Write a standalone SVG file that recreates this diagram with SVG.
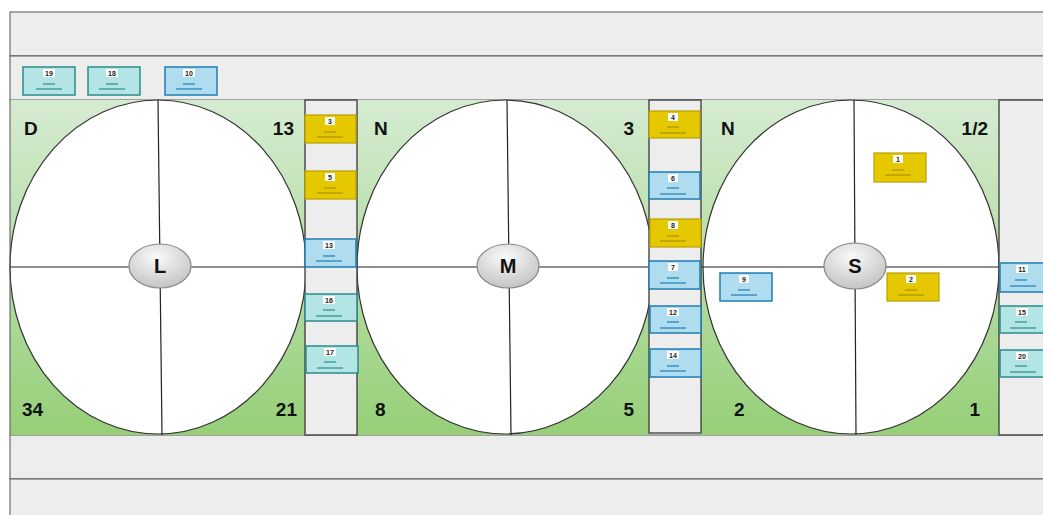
<svg xmlns="http://www.w3.org/2000/svg" width="1043" height="515" viewBox="0 0 1043 515">
<defs>
<linearGradient id="gg" x1="0" y1="0" x2="0" y2="1">
<stop offset="0" stop-color="#d5ebd2"/>
<stop offset="1" stop-color="#96cf78"/>
</linearGradient>
<radialGradient id="cg" cx="0.45" cy="0.3" r="0.8">
<stop offset="0" stop-color="#fafafa"/>
<stop offset="1" stop-color="#bcbcbc"/>
</radialGradient>
<style>
.lane{fill:#ededed;stroke:#555;stroke-width:1}
.col{fill:#ededed;stroke:#444;stroke-width:1.4}
.green{fill:url(#gg);stroke:none}
.big{fill:#fff;stroke:#333;stroke-width:1.2}
.axis{stroke:#222;stroke-width:1.2}
.ctr{fill:url(#cg);stroke:#888;stroke-width:1.2}
.ctrt{font-family:"Liberation Sans",Arial,sans-serif;font-size:20px;font-weight:bold;fill:#111;text-anchor:middle}
.corner{font-family:"Liberation Sans",Arial,sans-serif;font-size:19px;font-weight:bold;fill:#111}
.teal{fill:#b4e5e5;stroke:#2b8c8c;stroke-width:1.5}
.blue{fill:#b0dcf0;stroke:#1e7db3;stroke-width:1.5}
.yel{fill:#e5c800;stroke:#b9a100;stroke-width:1.2}
.num{font-family:"Liberation Sans",Arial,sans-serif;font-size:7px;font-weight:bold;fill:#222;text-anchor:middle}
.tb{fill:#fff}
.ln1{stroke-width:1.2}
.teal-l{stroke:#2b8c8c}
.blue-l{stroke:#1e7db3}
.yel-l{stroke:#a89200}
</style>
</defs>

<g id="lanes">
<rect class="lane" x="10" y="12" width="1040" height="44"/>
<rect class="lane" x="10" y="56" width="1040" height="44"/>
<rect class="lane" x="10" y="435" width="1040" height="44"/>
<rect class="lane" x="10" y="479" width="1040" height="44"/>
</g>

<g id="panel-L">
<rect class="green" x="10" y="100" width="295" height="335"/>
<ellipse class="big" cx="158" cy="267" rx="148" ry="167"/>
<line class="axis" x1="158" y1="100" x2="162" y2="435"/>
<line class="axis" x1="10" y1="267" x2="305" y2="267"/>
<text class="corner" x="24" y="135">D</text>
<text class="corner" x="294" y="135" text-anchor="end">13</text>
<text class="corner" x="22" y="416">34</text>
<text class="corner" x="297" y="416" text-anchor="end">21</text>
</g>
<g id="node-L">
<ellipse class="ctr" cx="160" cy="266" rx="31" ry="22"/>
<text class="ctrt" x="160" y="273">L</text>
</g>

<g id="panel-M">
<rect class="green" x="357" y="100" width="292" height="335"/>
<ellipse class="big" cx="505" cy="267" rx="148" ry="167"/>
<line class="axis" x1="507" y1="100" x2="511" y2="435"/>
<line class="axis" x1="357" y1="267" x2="649" y2="267"/>
<text class="corner" x="374" y="135">N</text>
<text class="corner" x="634" y="135" text-anchor="end">3</text>
<text class="corner" x="375" y="416">8</text>
<text class="corner" x="634" y="416" text-anchor="end">5</text>
</g>
<g id="node-M">
<ellipse class="ctr" cx="508" cy="266" rx="31" ry="22"/>
<text class="ctrt" x="508" y="273">M</text>
</g>

<g id="panel-S">
<rect class="green" x="701" y="100" width="298" height="335"/>
<ellipse class="big" cx="851" cy="267" rx="148" ry="167"/>
<line class="axis" x1="854" y1="100" x2="856" y2="435"/>
<line class="axis" x1="701" y1="267" x2="999" y2="267"/>
<text class="corner" x="721" y="135">N</text>
<text class="corner" x="988" y="135" text-anchor="end">1/2</text>
<text class="corner" x="734" y="416">2</text>
<text class="corner" x="980" y="416" text-anchor="end">1</text>
</g>
<g id="node-S">
<ellipse class="ctr" cx="855" cy="266" rx="31" ry="23"/>
<text class="ctrt" x="855" y="273">S</text>
</g>

<g id="columns">
<rect class="col" x="305" y="100" width="52" height="335"/>
<rect class="col" x="649" y="100" width="52" height="333"/>
<rect class="col" x="999" y="100" width="50" height="335"/>
<line x1="10" y1="100" x2="10" y2="435" stroke="#555"/>
</g>

<g id="cards">
<g id="c19"><rect class="teal" x="23" y="67" width="52" height="28"/><rect class="tb" x="43" y="69" width="12" height="8"/><text class="num" x="49" y="76">19</text><line class="ln1 teal-l" x1="43" y1="84" x2="55" y2="84"/><line class="ln1 teal-l" x1="36" y1="89" x2="62" y2="89"/></g>
<g id="c18"><rect class="teal" x="88" y="67" width="52" height="28"/><rect class="tb" x="106" y="69" width="12" height="8"/><text class="num" x="112" y="76">18</text><line class="ln1 teal-l" x1="106" y1="84" x2="118" y2="84"/><line class="ln1 teal-l" x1="99" y1="89" x2="125" y2="89"/></g>
<g id="c10"><rect class="blue" x="165" y="67" width="52" height="28"/><rect class="tb" x="183" y="69" width="12" height="8"/><text class="num" x="189" y="76">10</text><line class="ln1 blue-l" x1="183" y1="84" x2="195" y2="84"/><line class="ln1 blue-l" x1="176" y1="89" x2="202" y2="89"/></g>

<g id="c3"><rect class="yel" x="305" y="115" width="51" height="28"/><rect class="tb" x="325" y="117" width="10" height="8"/><text class="num" x="330" y="124">3</text><line class="ln1 yel-l" x1="324" y1="132" x2="336" y2="132"/><line class="ln1 yel-l" x1="317" y1="137" x2="343" y2="137"/></g>
<g id="c5"><rect class="yel" x="305" y="171" width="51" height="28"/><rect class="tb" x="325" y="173" width="10" height="8"/><text class="num" x="330" y="180">5</text><line class="ln1 yel-l" x1="324" y1="188" x2="336" y2="188"/><line class="ln1 yel-l" x1="317" y1="193" x2="343" y2="193"/></g>
<g id="c13"><rect class="blue" x="305" y="239" width="51" height="28"/><rect class="tb" x="323" y="241" width="12" height="8"/><text class="num" x="329" y="248">13</text><line class="ln1 blue-l" x1="323" y1="256" x2="335" y2="256"/><line class="ln1 blue-l" x1="316" y1="261" x2="342" y2="261"/></g>
<g id="c16"><rect class="teal" x="305" y="294" width="52" height="27"/><rect class="tb" x="323" y="296" width="12" height="8"/><text class="num" x="329" y="303">16</text><line class="ln1 teal-l" x1="323" y1="310" x2="335" y2="310"/><line class="ln1 teal-l" x1="316" y1="316" x2="342" y2="316"/></g>
<g id="c17"><rect class="teal" x="306" y="346" width="52" height="27"/><rect class="tb" x="324" y="348" width="12" height="8"/><text class="num" x="330" y="355">17</text><line class="ln1 teal-l" x1="324" y1="362" x2="336" y2="362"/><line class="ln1 teal-l" x1="317" y1="368" x2="343" y2="368"/></g>

<g id="c4"><rect class="yel" x="649" y="111" width="51" height="27"/><rect class="tb" x="668" y="113" width="10" height="8"/><text class="num" x="673" y="120">4</text><line class="ln1 yel-l" x1="667" y1="127" x2="679" y2="127"/><line class="ln1 yel-l" x1="660" y1="133" x2="686" y2="133"/></g>
<g id="c6"><rect class="blue" x="649" y="172" width="51" height="27"/><rect class="tb" x="668" y="174" width="10" height="8"/><text class="num" x="673" y="181">6</text><line class="ln1 blue-l" x1="667" y1="188" x2="679" y2="188"/><line class="ln1 blue-l" x1="660" y1="194" x2="686" y2="194"/></g>
<g id="c8"><rect class="yel" x="650" y="219" width="51" height="28"/><rect class="tb" x="668" y="221" width="10" height="8"/><text class="num" x="673" y="228">8</text><line class="ln1 yel-l" x1="667" y1="236" x2="679" y2="236"/><line class="ln1 yel-l" x1="660" y1="241" x2="686" y2="241"/></g>
<g id="c7"><rect class="blue" x="649" y="261" width="51" height="28"/><rect class="tb" x="668" y="263" width="10" height="8"/><text class="num" x="673" y="270">7</text><line class="ln1 blue-l" x1="667" y1="278" x2="679" y2="278"/><line class="ln1 blue-l" x1="660" y1="283" x2="686" y2="283"/></g>
<g id="c12"><rect class="blue" x="650" y="306" width="51" height="27"/><rect class="tb" x="667" y="308" width="12" height="8"/><text class="num" x="673" y="315">12</text><line class="ln1 blue-l" x1="667" y1="322" x2="679" y2="322"/><line class="ln1 blue-l" x1="660" y1="328" x2="686" y2="328"/></g>
<g id="c14"><rect class="blue" x="650" y="349" width="51" height="28"/><rect class="tb" x="667" y="351" width="12" height="8"/><text class="num" x="673" y="358">14</text><line class="ln1 blue-l" x1="667" y1="366" x2="679" y2="366"/><line class="ln1 blue-l" x1="660" y1="371" x2="686" y2="371"/></g>

<g id="c1"><rect class="yel" x="874" y="153" width="52" height="29"/><rect class="tb" x="893" y="155" width="10" height="8"/><text class="num" x="898" y="162">1</text><line class="ln1 yel-l" x1="892" y1="170" x2="904" y2="170"/><line class="ln1 yel-l" x1="885" y1="175" x2="911" y2="175"/></g>
<g id="c2"><rect class="yel" x="887" y="273" width="52" height="28"/><rect class="tb" x="906" y="275" width="10" height="8"/><text class="num" x="911" y="282">2</text><line class="ln1 yel-l" x1="905" y1="290" x2="917" y2="290"/><line class="ln1 yel-l" x1="898" y1="295" x2="924" y2="295"/></g>
<g id="c9"><rect class="blue" x="720" y="273" width="52" height="28"/><rect class="tb" x="739" y="275" width="10" height="8"/><text class="num" x="744" y="282">9</text><line class="ln1 blue-l" x1="738" y1="290" x2="750" y2="290"/><line class="ln1 blue-l" x1="731" y1="295" x2="757" y2="295"/></g>

<g id="c11"><rect class="blue" x="1000" y="263" width="50" height="29"/><rect class="tb" x="1016" y="265" width="12" height="8"/><text class="num" x="1022" y="272">11</text><line class="ln1 blue-l" x1="1015" y1="280" x2="1027" y2="280"/><line class="ln1 blue-l" x1="1010" y1="286" x2="1036" y2="286"/></g>
<g id="c15"><rect class="teal" x="1000" y="306" width="50" height="27"/><rect class="tb" x="1016" y="308" width="12" height="8"/><text class="num" x="1022" y="315">15</text><line class="ln1 teal-l" x1="1015" y1="322" x2="1027" y2="322"/><line class="ln1 teal-l" x1="1010" y1="328" x2="1036" y2="328"/></g>
<g id="c20"><rect class="teal" x="1000" y="350" width="50" height="27"/><rect class="tb" x="1016" y="352" width="12" height="8"/><text class="num" x="1022" y="359">20</text><line class="ln1 teal-l" x1="1015" y1="366" x2="1027" y2="366"/><line class="ln1 teal-l" x1="1010" y1="372" x2="1036" y2="372"/></g>
</g>

<g id="connectors"></g>
</svg>
